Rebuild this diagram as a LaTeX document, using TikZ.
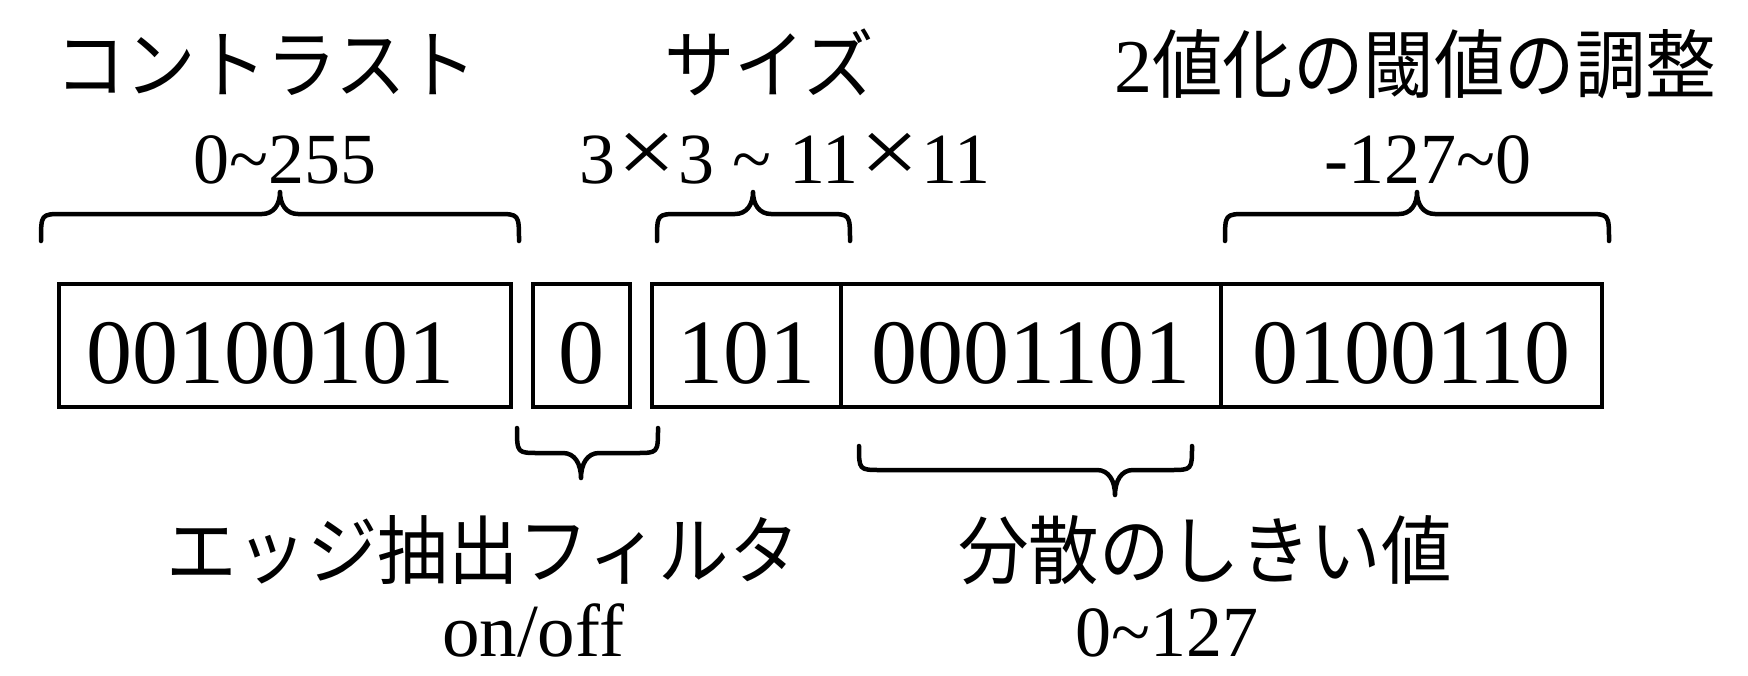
\documentclass[tikz,border=0pt]{standalone}
\usepackage{fontspec}
\usepackage{graphicx}
\setmainfont{Liberation Serif}
\newfontfamily\jpfont[FakeStretch=0.94]{Noto Sans CJK JP}
\newcommand\bigtimes{\hspace{2pt}\scalebox{1.45}[1.3]{×}\hspace{2pt}}
% #1 x-start, #2 x-end, #3 x-tip, #4 y-ends, #5 y-body, #6 y-tip
\newcommand\drawbrace[6]{%
  \draw[bracestyle] (#1,#4) .. controls (#1,#5) and (#1,#5) .. ({#1+22},#5)
    -- ({#3-18},#5) .. controls ({#3-6},#5) and (#3,{#5+0.45*(#6-#5)}) .. (#3,#6)
    .. controls (#3,{#5+0.45*(#6-#5)}) and ({#3+6},#5) .. ({#3+18},#5)
    -- ({#2-22},#5) .. controls (#2,#5) and (#2,#5) .. (#2,#4);}
\begin{document}
\begin{tikzpicture}[x=1pt,y=-1pt,
  bitbox/.style={draw, line width=4pt, minimum height=123pt, inner sep=0pt,
    text height=75pt, text depth=0pt, font=\fontsize{92}{100}\selectfont},
  jplabel/.style={anchor=base, inner sep=0pt, font=\jpfont\fontsize{75}{80}\selectfont},
  numlabel/.style={anchor=base, inner sep=0pt, font=\fontsize{72}{80}\selectfont},
  bracestyle/.style={line width=4.5pt, line cap=round, line join=round}]
\useasboundingbox (0,0) rectangle (1748,675);

% bit fields
\node[bitbox, minimum width=452pt] (b1) at (285,345.5) {00100101\hspace*{30pt}};
\node[bitbox, minimum width=97pt]  (b2) at (581.5,345.5) {0};
\node[bitbox, minimum width=189pt] (b3) at (746.5,345.5) {101};
\node[bitbox, minimum width=380pt] (b4) at (1031,345.5) {0001101};
\node[bitbox, minimum width=381pt] (b5) at (1411.5,345.5) {0100110};

% labels above
\node[jplabel] (t1) at (266,92) {コントラスト};
\node[numlabel] (n1) at (285,183) {0\textasciitilde255};
\node[jplabel] (t2) at (769,92) {サイズ};
\node[numlabel] (n2) at (785,183) {3\bigtimes3 \textasciitilde{} 11\bigtimes11};
\node[jplabel] (t3) at (1415,92) {{\rmfamily\fontsize{76}{80}\selectfont 2}値化の閾値の調整};
\node[numlabel] (n3) at (1428,183) {-127\textasciitilde0};

% labels below
\node[jplabel] (t4) at (483,578) {エッジ抽出フィルタ};
\node[numlabel, font=\fontsize{75}{80}\selectfont] (n4) at (533,656) {on/off};
\node[jplabel] (t5) at (1205,578) {分散のしきい値};
\node[numlabel] (n5) at (1167,656) {0\textasciitilde127};

% braces
\drawbrace{41}{519}{280}{241}{214}{192}
\drawbrace{657}{850}{753}{241}{214}{192}
\drawbrace{1225}{1609}{1417}{241}{214}{192}
\drawbrace{517}{658}{581}{428}{453}{478}
\drawbrace{859}{1192}{1115}{446}{470}{495}
\end{tikzpicture}
\end{document}
